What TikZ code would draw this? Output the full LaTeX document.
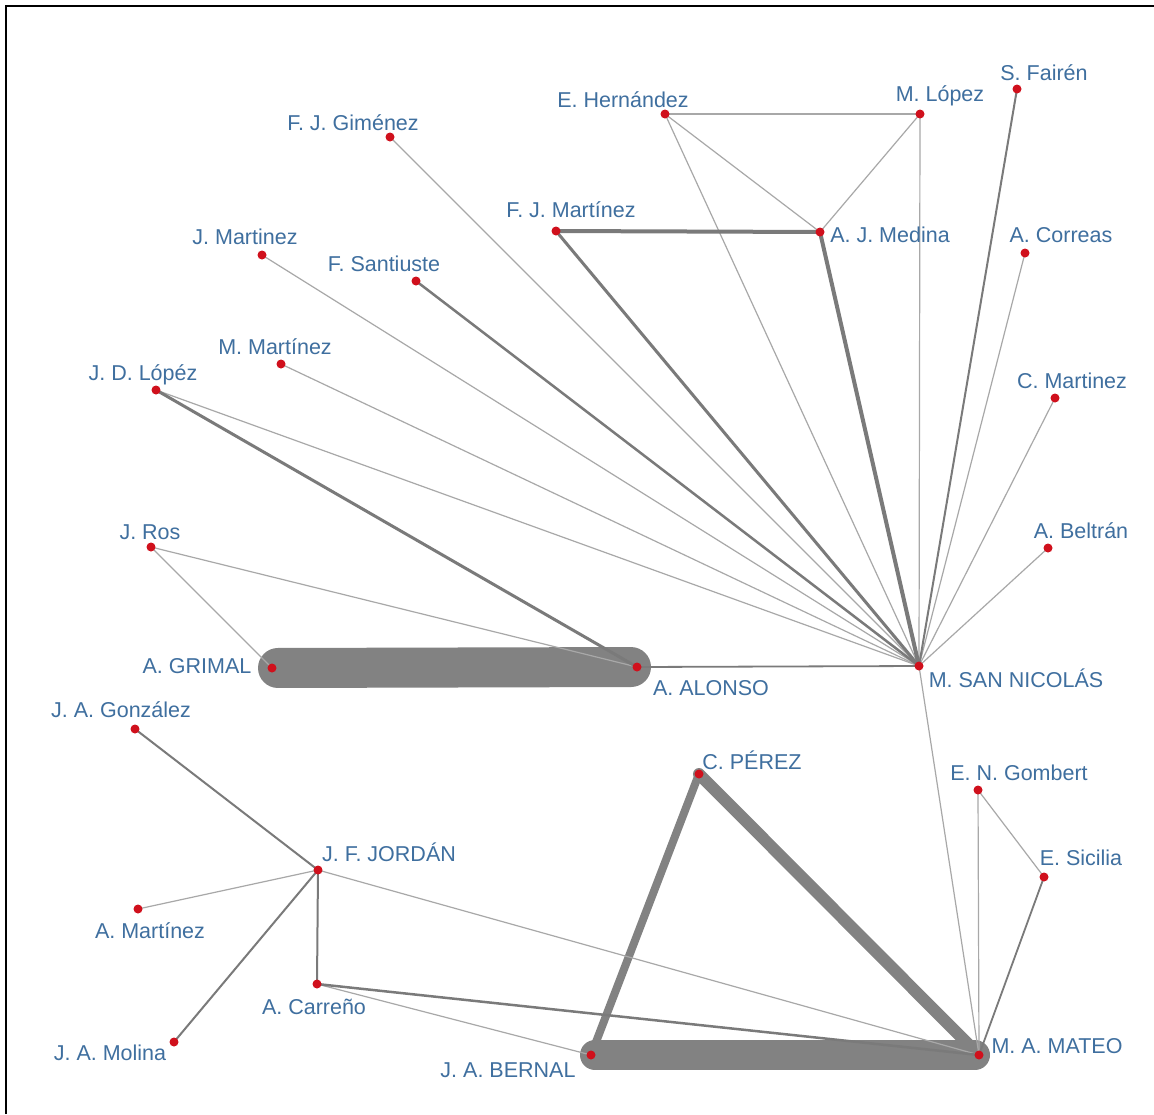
\documentclass[tikz,border=0pt]{standalone}
\usepackage{fontspec}
\setmainfont{Liberation Sans}
\definecolor{lblue}{HTML}{3F6F9F}
\definecolor{dotred}{HTML}{D0101C}
\definecolor{thinc}{HTML}{A8A8A8}
\definecolor{medc}{HTML}{7A7A7A}
\definecolor{fatc}{HTML}{828282}
\tikzset{
  dot/.style={circle,fill=dotred,inner sep=0pt,minimum size=9pt},
  lbl/.style={text=lblue,inner sep=0pt,font=\fontsize{21.5}{24}\selectfont},
  thin edge/.style={draw=thinc,line width=1.2pt},
  med edge/.style={draw=medc,line width=2pt},
  fat edge/.style={draw=fatc,line cap=round},
}
\begin{document}
\begin{tikzpicture}[x=1pt,y=-1pt]
\useasboundingbox (0,0) rectangle (1154,1114);
\fill[white] (0,0) rectangle (1154,1114);
\draw[line width=1.3pt] (6,1114) -- (6,6) -- (1154,6);
% positions
\coordinate (pgim) at (390,137);
\coordinate (pher) at (665,114);
\coordinate (pmlo) at (920,114);
\coordinate (pfai) at (1017,89);
\coordinate (pfjm) at (556,231);
\coordinate (pmed) at (820,232);
\coordinate (pcor) at (1025,253);
\coordinate (pjma) at (262,255);
\coordinate (psan) at (416,281);
\coordinate (pmma) at (281,364);
\coordinate (pjdl) at (156,390);
\coordinate (pcma) at (1055,398);
\coordinate (pros) at (151,547);
\coordinate (pbel) at (1048,548);
\coordinate (pgri) at (272,668);
\coordinate (palo) at (637,667);
\coordinate (psn) at (919,666);
\coordinate (pgon) at (135,729);
\coordinate (pper) at (699,774);
\coordinate (pgom) at (978,790);
\coordinate (pjor) at (318,870);
\coordinate (psic) at (1044,877);
\coordinate (pama) at (138,909);
\coordinate (pcar) at (317,984);
\coordinate (pmol) at (174,1042);
\coordinate (pber) at (591,1055);
\coordinate (pmat) at (979,1055);
% fat edges
\draw[fat edge,line width=40pt,shorten <=6pt,shorten >=6pt] (pgri) -- (palo);
\draw[fat edge,line width=30pt,shorten <=4pt,shorten >=4pt] (pber) -- (pmat);
\draw[fat edge,line width=8pt] (pper) -- (pber);
\draw[fat edge,line width=12pt] (pper) -- (pmat);
% thin edges
\draw[thin edge] (pher) -- (pmlo);
\draw[thin edge] (pher) -- (pmed);
\draw[thin edge] (pher) -- (psn);
\draw[thin edge] (pmlo) -- (pmed);
\draw[thin edge] (pmlo) -- (psn);
\draw[thin edge] (pcor) -- (psn);
\draw[thin edge] (pcma) -- (psn);
\draw[thin edge] (pbel) -- (psn);
\draw[thin edge] (pgim) -- (psn);
\draw[thin edge] (pjma) -- (psn);
\draw[thin edge] (pmma) -- (psn);
\draw[thin edge] (pjdl) -- (psn);
\draw[thin edge] (pros) -- (pgri);
\draw[thin edge] (pros) -- (palo);
\draw[thin edge] (psn) -- (pmat);
\draw[thin edge] (pgom) -- (pmat);
\draw[thin edge] (pgom) -- (psic);
\draw[thin edge] (pama) -- (pjor);
\draw[thin edge] (pjor) -- (pmat);
\draw[thin edge] (pcar) -- (pber);
% medium edges
\draw[med edge,line width=4pt] (pfjm) -- (pmed);
\draw[med edge,line width=3pt] (pfjm) -- (psn);
\draw[med edge,line width=4pt] (pmed) -- (psn);
\draw[med edge] (pfai) -- (psn);
\draw[med edge,line width=2.5pt] (psan) -- (psn);
\draw[med edge,line width=3pt] (pjdl) -- (palo);
\draw[med edge,line width=1.8pt] (palo) -- (psn);
\draw[med edge,line width=1.8pt] (psic) -- (pmat);
\draw[med edge] (pgon) -- (pjor);
\draw[med edge] (pmol) -- (pjor);
\draw[med edge] (pjor) -- (pcar);
\draw[med edge,line width=2.5pt] (pcar) -- (pmat);
% dots
\foreach \n in {gim,her,mlo,fai,fjm,med,cor,jma,san,mma,jdl,cma,ros,bel,gri,alo,sn,gon,per,gom,jor,sic,ama,car,mol,ber,mat}
  \node[dot] (\n) at (p\n) {};
% labels
\node[lbl] (lgim) at (353,123) {F. J. Giménez};
\node[lbl] (lher) at (623,100) {E. Hernández};
\node[lbl] (lmlo) at (940,96) {M. López};
\node[lbl] (lfai) at (1044,73) {S. Fairén};
\node[lbl] (lfjm) at (571,210) {F. J. Martínez};
\node[lbl] (lmed) at (890,235) {A. J. Medina};
\node[lbl] (lcor) at (1061,235) {A. Correas};
\node[lbl] (ljma) at (245,237) {J. Martinez};
\node[lbl] (lsan) at (384,264) {F. Santiuste};
\node[lbl] (lmma) at (275,347) {M. Martínez};
\node[lbl] (ljdl) at (143,375) {J. D. Lópéz};
\node[lbl] (lcma) at (1072,381) {C. Martinez};
\node[lbl] (lros) at (150,532) {J. Ros};
\node[lbl] (lbel) at (1081,531) {A. Beltrán};
\node[lbl] (lgri) at (197,666) {A. GRIMAL};
\node[lbl] (lalo) at (711,688) {A. ALONSO};
\node[lbl] (lsn) at (1016,678) {M. SAN NICOLÁS};
\node[lbl] (lgon) at (121,710) {J. A. González};
\node[lbl] (lper) at (752,760) {C. PÉREZ};
\node[lbl] (lgom) at (1019,773) {E. N. Gombert};
\node[lbl] (ljor) at (389,852) {J. F. JORDÁN};
\node[lbl] (lsic) at (1081,858) {E. Sicilia};
\node[lbl] (lama) at (150,931) {A. Martínez};
\node[lbl] (lcar) at (314,1007) {A. Carreño};
\node[lbl] (lmol) at (110,1053) {J. A. Molina};
\node[lbl] (lber) at (508,1070) {J. A. BERNAL};
\node[lbl] (lmat) at (1057,1046) {M. A. MATEO};
\end{tikzpicture}
\end{document}
